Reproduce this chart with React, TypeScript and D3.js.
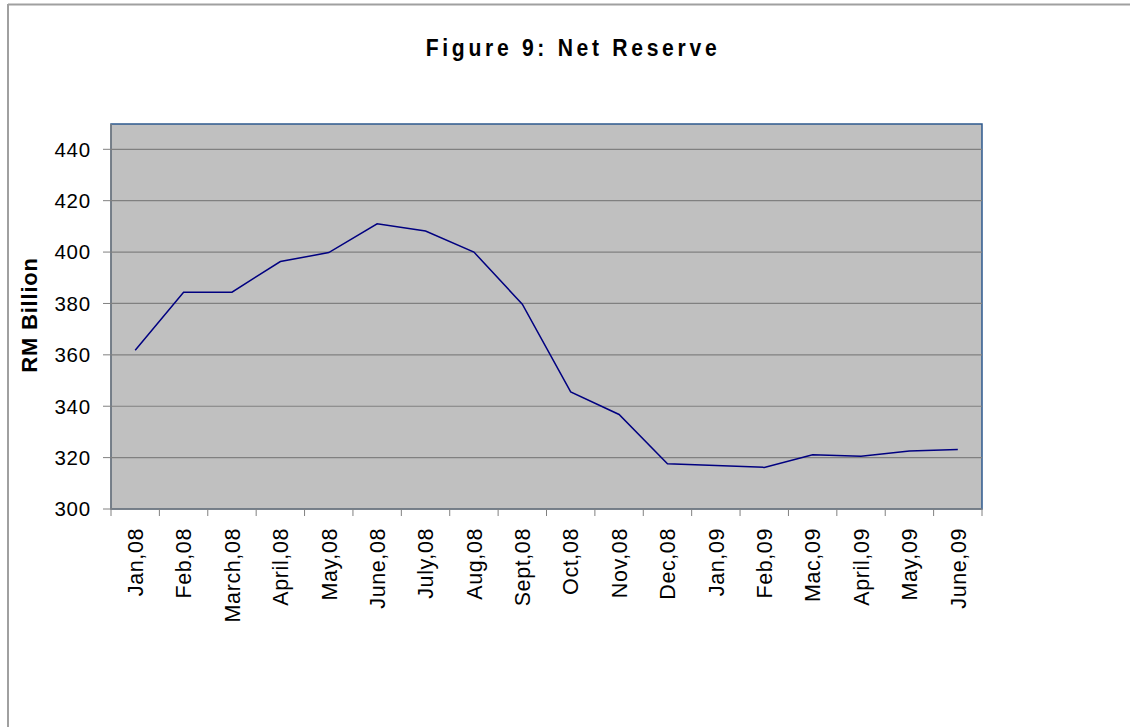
import React from "react";
import * as d3 from "d3";

const categories = [
  "Jan,08", "Feb,08", "March,08", "April,08", "May,08", "June,08", "July,08", "Aug,08",
  "Sept,08", "Oct,08", "Nov,08", "Dec,08", "Jan,09", "Feb,09", "Mac,09", "April,09",
  "May,09", "June,09",
];
const netReserve = [
  361.8, 384.4, 384.4, 396.3, 399.8, 411.0, 408.2, 400.0,
  379.7, 345.6, 336.8, 317.6, 316.9, 316.2, 321.1, 320.5,
  322.6, 323.2,
];
const yTicks = [300, 320, 340, 360, 380, 400, 420, 440];
const title = "Figure 9: Net Reserve";
const yTitle = "RM Billion";

export default function App() {
  const W = 1130, H = 727;
  const left = 111, right = 982, top = 124, bottom = 509;
  const x = d3.scaleBand<string>().domain(categories).range([left, right]);
  const y = d3.scaleLinear().domain([300, 440]).range([bottom, 149.3]);
  const line = d3.line<number>()
    .x((_, i) => (x(categories[i]) as number) + x.bandwidth() / 2)
    .y((d) => y(d));
  const font = "'Liberation Sans', Arial, sans-serif";
  const boundaries = categories.map((c) => x(c) as number).concat([right]);
  return (
    <svg width={W} height={H} style={{ position: "absolute", left: 0, top: 0, background: "#fff" }}>
      <line x1={8} y1={4.5} x2={W} y2={4.5} stroke="#a0a0a0" strokeWidth={2} />
      <line x1={8} y1={4} x2={8} y2={H} stroke="#a0a0a0" strokeWidth={2} />
      <g transform="translate(573,56) scale(0.88,1)">
        <text x={0} y={0} textAnchor="middle" fontFamily={font} fontWeight="bold" fontSize={24} letterSpacing={4.2} fill="#000">{title}</text>
      </g>
      <rect x={left} y={top} width={right - left} height={bottom - top} fill="#c0c0c0" stroke="#2e5a8e" strokeWidth={1.5} />
      {yTicks.filter((t) => t > 300).map((t) => (
        <line key={"g" + t} x1={left} x2={right} y1={y(t)} y2={y(t)} stroke="#808080" strokeWidth={1.2} />
      ))}
      <line x1={left} x2={left} y1={top} y2={bottom} stroke="#808080" strokeWidth={1.5} />
      <line x1={left} x2={right} y1={bottom} y2={bottom} stroke="#808080" strokeWidth={1.5} />
      {yTicks.map((t) => (
        <g key={"t" + t}>
          <line x1={103} x2={left} y1={y(t)} y2={y(t)} stroke="#808080" strokeWidth={1} />
          <text x={91} y={y(t)} dy="0.36em" textAnchor="end" fontFamily={font} fontSize={20.5} letterSpacing={0.8} fill="#000">{t}</text>
        </g>
      ))}
      {boundaries.map((bx, i) => (
        <line key={"xt" + i} x1={bx} x2={bx} y1={bottom} y2={bottom + 7} stroke="#808080" strokeWidth={1} />
      ))}
      {categories.map((c) => {
        const cx = (x(c) as number) + x.bandwidth() / 2;
        return (
          <text key={c} transform={`translate(${cx},${528}) rotate(-90)`} dy="0.36em" textAnchor="end" fontFamily={font} fontSize={21.5} letterSpacing={0.6} fill="#000">{c}</text>
        );
      })}
      <text transform={`translate(29,315) rotate(-90)`} dy="0.36em" textAnchor="middle" fontFamily={font} fontWeight="bold" fontSize={22} letterSpacing={0.8} fill="#000">{yTitle}</text>
      <path d={line(netReserve) || ""} fill="none" stroke="#000080" strokeWidth={1.5} />
    </svg>
  );
}
